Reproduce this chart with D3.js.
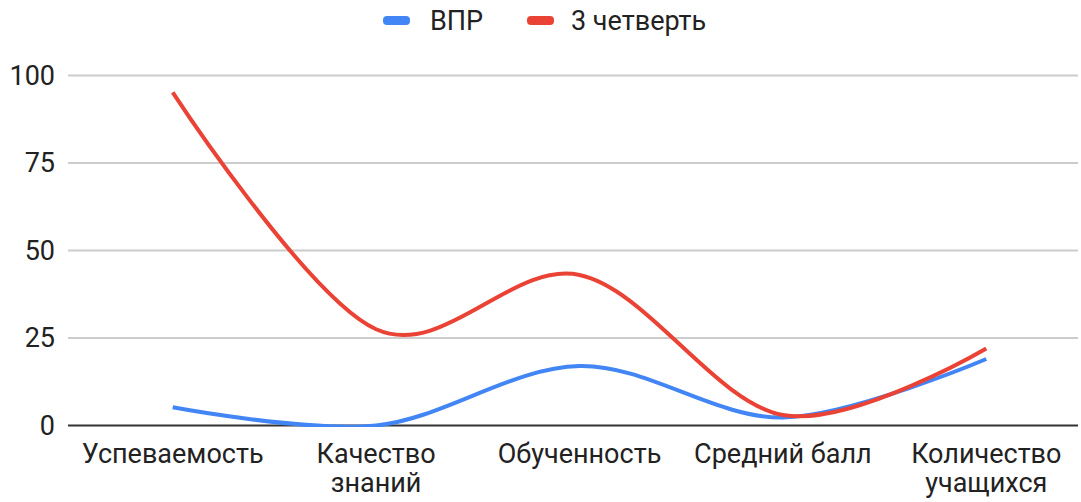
<!DOCTYPE html>
<html>
<head>
<meta charset="utf-8">
<script src="https://cdn.jsdelivr.net/npm/d3@7"></script>
<style>
  body { margin: 0; background: #fff; }
  text { font-family: Roboto, Arial, sans-serif; fill: #222; }
</style>
</head>
<body>
<div id="chart"></div>
<script>
// data
var categories = ["Успеваемость", "Качество знаний", "Обученность", "Средний балл", "Количество учащихся"];
var vprValues = [5.2, 0, 17, 2.3, 19];
var quarterValues = [95.2, 27.5, 43, 3, 22];
var yTicks = [0, 25, 50, 75, 100];
var seriesNames = ["ВПР", "3 четверть"];
var seriesColors = ["#4285f4", "#ea4335"];

var width = 1081, height = 502;
var gridLeft = 68, gridRight = 1078;
var plotTop = 75.5, plotBottom = 425.5;

var svg = d3.select("#chart").append("svg")
    .attr("width", width)
    .attr("height", height);

var x = d3.scalePoint()
    .domain(categories)
    .range([71, 1088])
    .padding(0.5);

var y = d3.scaleLinear()
    .domain([0, 100])
    .range([plotBottom, plotTop]);

// clip so the smoothed line does not dip under the baseline
svg.append("clipPath")
    .attr("id", "plotClip")
    .append("rect")
    .attr("x", 0)
    .attr("y", 0)
    .attr("width", width)
    .attr("height", plotBottom + 1.5);

// gridlines
svg.append("g").selectAll("line")
    .data(yTicks.filter(function(d) { return d > 0; }))
    .enter().append("line")
    .attr("x1", gridLeft)
    .attr("x2", gridRight)
    .attr("y1", function(d) { return y(d); })
    .attr("y2", function(d) { return y(d); })
    .style("stroke", "#cccccc")
    .style("stroke-width", 2);

// y labels
svg.append("g").selectAll("text")
    .data(yTicks)
    .enter().append("text")
    .attr("x", 55)
    .attr("y", function(d) { return y(d); })
    .attr("dy", ".35em")
    .attr("text-anchor", "end")
    .style("font-size", "27px")
    .text(function(d) { return d; });

// baseline
svg.append("line")
    .attr("x1", gridLeft)
    .attr("x2", gridRight)
    .attr("y1", y(0))
    .attr("y2", y(0))
    .style("stroke", "#333333")
    .style("stroke-width", 2);

// lines
var line = d3.line()
    .x(function(d, i) { return x(categories[i]); })
    .y(function(d) { return y(d); })
    .curve(d3.curveCardinal.tension(0));

[vprValues, quarterValues].forEach(function(vals, k) {
    svg.append("path")
        .datum(vals)
        .attr("d", line)
        .attr("clip-path", "url(#plotClip)")
        .style("fill", "none")
        .style("stroke", seriesColors[k])
        .style("stroke-width", 4)
        .style("stroke-linejoin", "round");
});

// x labels, wrap to two lines where they are long
svg.append("g").selectAll("text")
    .data(categories)
    .enter().append("text")
    .attr("text-anchor", "middle")
    .style("font-size", "27px")
    .each(function(d) {
        var t = d3.select(this);
        var words = d === "Средний балл" ? [d] : d.split(" ");
        words.forEach(function(w, i) {
            t.append("tspan")
                .attr("x", x(d))
                .attr("y", 463 + i * 29)
                .text(w);
        });
    });

// legend
var legend = svg.append("g");
var legendX = [383, 527];
var legendTextX = [430, 571];
seriesNames.forEach(function(name, i) {
    legend.append("rect")
        .attr("x", legendX[i])
        .attr("y", 16)
        .attr("width", 27)
        .attr("height", 9)
        .attr("rx", 4)
        .style("fill", seriesColors[i]);
    legend.append("text")
        .attr("x", legendTextX[i])
        .attr("y", 21)
        .attr("dy", ".35em")
        .style("font-size", "27px")
        .text(name);
});
</script>
</body>
</html>
